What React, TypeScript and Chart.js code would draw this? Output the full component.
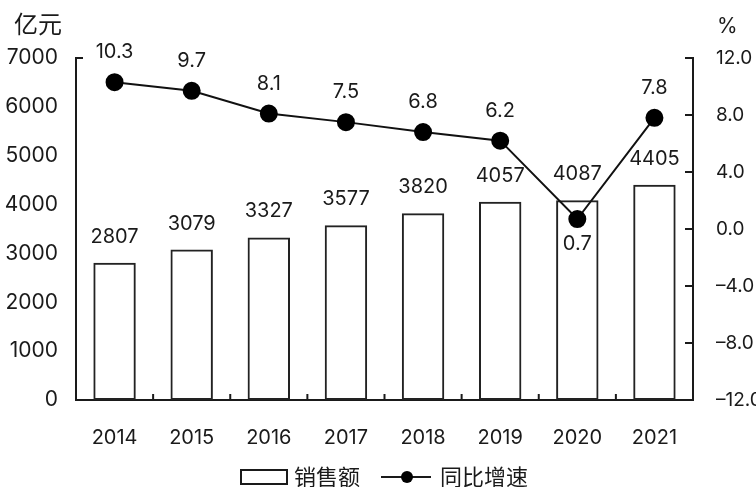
import React, { useEffect, useRef } from "react";
import { Chart, registerables } from "chart.js";

Chart.register(...registerables);

const years = ["2014", "2015", "2016", "2017", "2018", "2019", "2020", "2021"];
const sales = [2807, 3079, 3327, 3577, 3820, 4057, 4087, 4405];
const growth = [10.3, 9.7, 8.1, 7.5, 6.8, 6.2, 0.7, 7.8];
const leftTicks = [0, 1000, 2000, 3000, 4000, 5000, 6000, 7000];
const rightTicks = [-12, -8, -4, 0, 4, 8, 12];
const leftUnit = "亿元";
const rightUnit = "%";
const barLegend = "销售额";
const lineLegend = "同比增速";

const NUM_FONT = "Inter, 'Liberation Sans', Arial, sans-serif";
const CJK_FONT = "'Noto Sans CJK SC', 'Noto Sans', sans-serif";
const INK = "#1a1a1a";

const decor = {
  id: "decor",
  afterDatasetsDraw(chart: any) {
    const ctx = chart.ctx;
    const area = chart.chartArea;
    const x = chart.scales.x;
    const y1 = chart.scales.y1;
    ctx.save();
    ctx.strokeStyle = INK;
    ctx.lineWidth = 2;
    for (let i = 1; i < years.length; i++) {
      const px = (x.getPixelForValue(i - 1) + x.getPixelForValue(i)) / 2;
      ctx.beginPath();
      ctx.moveTo(px, area.bottom);
      ctx.lineTo(px, area.bottom - 6);
      ctx.stroke();
    }
    rightTicks.forEach((v) => {
      const py = y1.getPixelForValue(v);
      ctx.beginPath();
      ctx.moveTo(area.right - 8, py);
      ctx.lineTo(area.right, py);
      ctx.stroke();
    });
    ctx.beginPath();
    ctx.moveTo(area.left, area.top);
    ctx.lineTo(area.left + 7, area.top);
    ctx.stroke();

    ctx.fillStyle = INK;
    ctx.font = "20px " + NUM_FONT;
    ctx.textAlign = "center";
    ctx.textBaseline = "middle";
    const barMeta = chart.getDatasetMeta(1);
    const lineMeta = chart.getDatasetMeta(0);
    barMeta.data.forEach((el: any, i: number) => {
      ctx.fillText(String(sales[i]), el.x, el.y - 26);
    });
    lineMeta.data.forEach((el: any, i: number) => {
      const barTop = barMeta.data[i].y;
      const below = el.y > barTop - 45;
      ctx.fillText(growth[i].toFixed(1), el.x, below ? el.y + 25 : el.y - 30);
    });

    ctx.font = "24px " + CJK_FONT;
    ctx.textAlign = "left";
    ctx.fillText(leftUnit, 14, 24);
    ctx.font = "21px " + NUM_FONT;
    ctx.fillText(rightUnit, 717, 27);

    const ly = 477;
    ctx.lineWidth = 2;
    ctx.strokeRect(241, 470, 46, 14);
    ctx.font = "22px " + CJK_FONT;
    ctx.fillText(barLegend, 294, ly);
    ctx.beginPath();
    ctx.moveTo(381, ly);
    ctx.lineTo(431, ly);
    ctx.stroke();
    ctx.beginPath();
    ctx.arc(407, ly, 6, 0, Math.PI * 2);
    ctx.fillStyle = "#000";
    ctx.fill();
    ctx.fillStyle = INK;
    ctx.fillText(lineLegend, 440, ly);
    ctx.restore();
  },
};

export default function App() {
  const ref = useRef<HTMLCanvasElement>(null);
  useEffect(() => {
    document.body.style.margin = "0";
    const chart = new Chart(ref.current as HTMLCanvasElement, {
      type: "bar",
      data: {
        labels: years,
        datasets: [
          {
            type: "line",
            label: lineLegend,
            data: growth,
            yAxisID: "y1",
            borderColor: "#111",
            borderWidth: 2,
            pointRadius: 8,
            pointBackgroundColor: "#000",
            pointBorderColor: "#000",
            order: 0,
          } as any,
          {
            type: "bar",
            label: barLegend,
            data: sales,
            yAxisID: "y",
            backgroundColor: "rgba(255,255,255,0)",
            borderColor: "#222",
            borderWidth: 2,
            borderSkipped: false,
            barPercentage: 0.55,
            categoryPercentage: 1,
            order: 1,
          },
        ],
      },
      options: {
        animation: false,
        responsive: false,
        maintainAspectRatio: false,
        layout: { padding: { top: 58, bottom: 37, left: 0, right: 0 } },
        plugins: { legend: { display: false }, tooltip: { enabled: false } },
        scales: {
          x: {
            grid: { display: false, drawTicks: false },
            border: { display: true, color: INK, width: 2 },
            ticks: { padding: 26, color: INK, font: { size: 20, family: NUM_FONT } },
            afterFit: (s: any) => { s.height = 50; },
          },
          y: {
            position: "left",
            min: 0,
            max: 7000,
            afterBuildTicks: (s: any) => { s.ticks = leftTicks.map((v) => ({ value: v })); },
            grid: { display: false, drawTicks: false },
            border: { display: true, color: INK, width: 2 },
            ticks: {
              padding: 18,
              color: INK,
              font: { size: 21, family: NUM_FONT },
              callback: (v: any) => String(v),
            },
            afterFit: (s: any) => { s.width = 76; },
          },
          y1: {
            position: "right",
            min: -12,
            max: 12,
            afterBuildTicks: (s: any) => { s.ticks = rightTicks.map((v) => ({ value: v })); },
            grid: { display: false, drawTicks: false },
            border: { display: true, color: INK, width: 2 },
            ticks: {
              padding: 23,
              color: INK,
              font: { size: 19, family: NUM_FONT },
              callback: (v: any) => (Number(v) < 0 ? "\u2013" + Math.abs(Number(v)).toFixed(1) : Number(v).toFixed(1)),
            },
            afterFit: (s: any) => { s.width = 63; },
          },
        },
      },
      plugins: [decor],
    });
    return () => chart.destroy();
  }, []);
  return (
    <div style={{ position: "fixed", left: 0, top: 0, width: 756, height: 487, background: "#fff" }}>
      <canvas ref={ref} width={756} height={487} style={{ width: 756, height: 487, display: "block" }} />
    </div>
  );
}
